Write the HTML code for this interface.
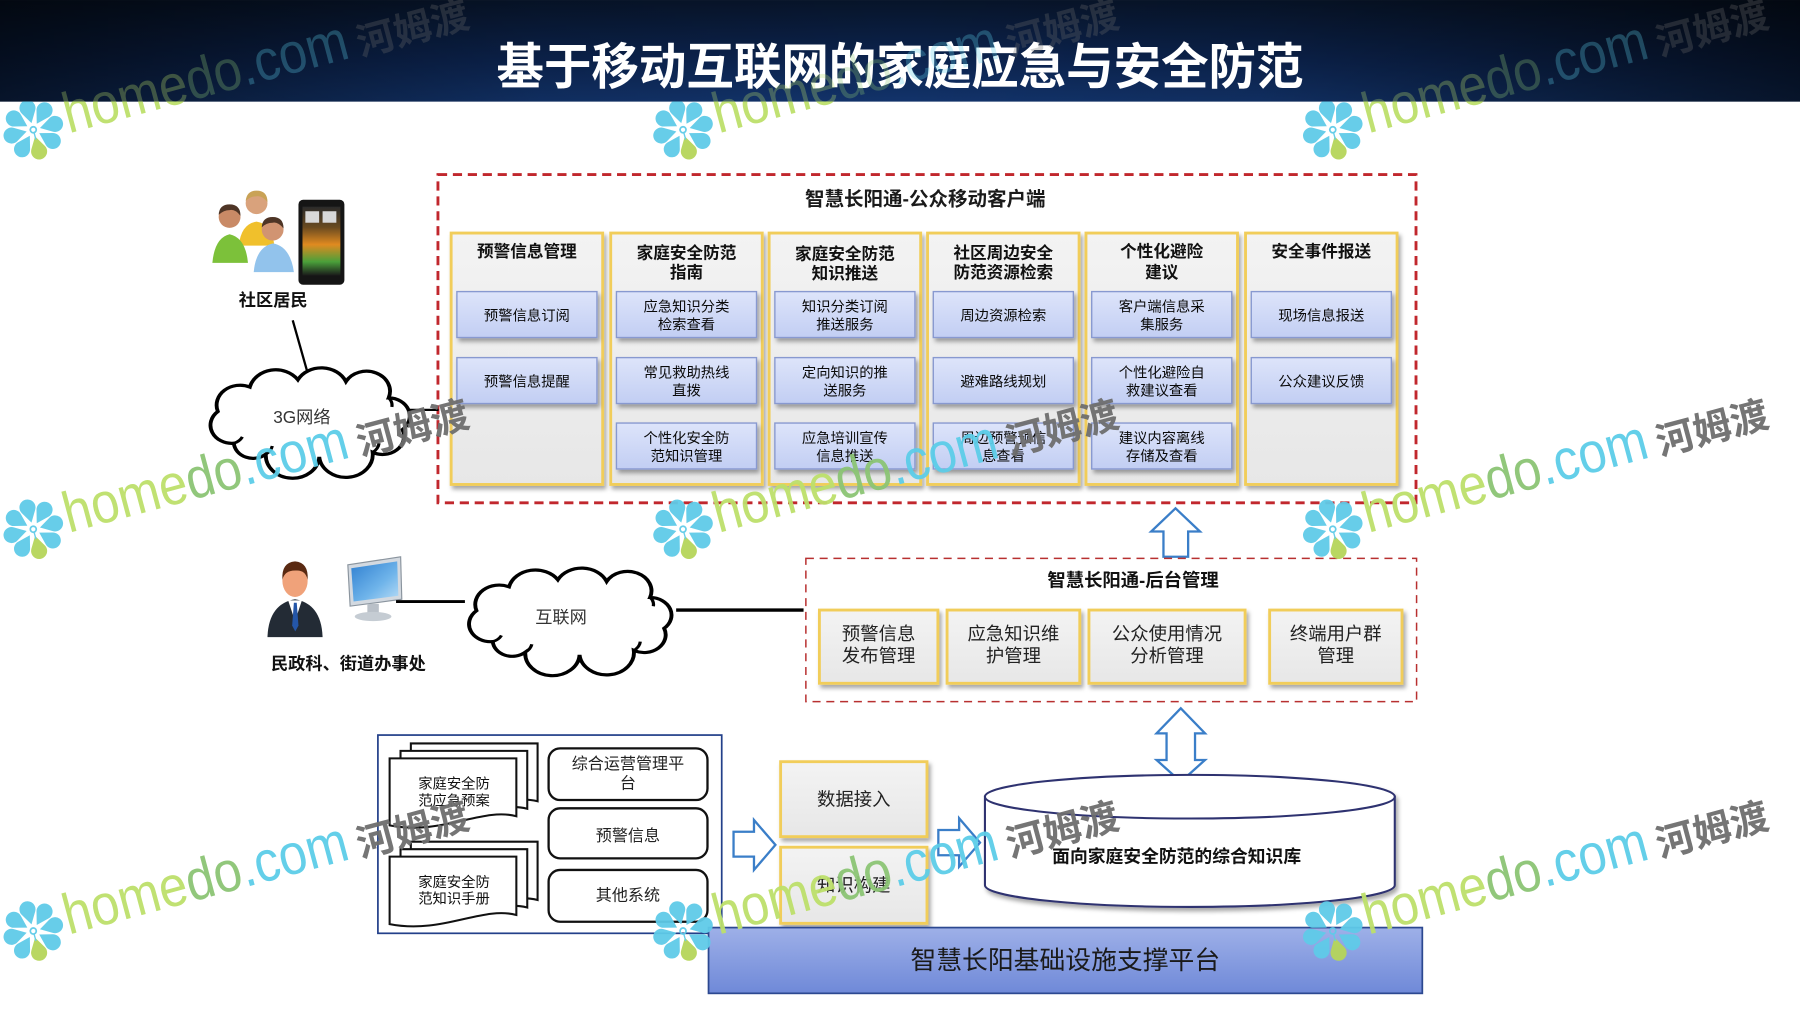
<!DOCTYPE html>
<html><head><meta charset="utf-8">
<style>
html,body{margin:0;padding:0;width:1800px;height:1013px;overflow:hidden;background:#fff}
svg{display:block}
</style></head>
<body>
<svg width="1800" height="1013" viewBox="0 0 1568 882.4" xmlns="http://www.w3.org/2000/svg" style="font-family:'Liberation Sans','Noto Sans CJK SC',sans-serif">
<defs>
  <linearGradient id="hv" x1="0" y1="0" x2="0" y2="1">
    <stop offset="0" stop-color="#071429"/>
    <stop offset="0.6" stop-color="#0c2450"/>
    <stop offset="1" stop-color="#12336a"/>
  </linearGradient>
  <linearGradient id="hh" x1="0" y1="0" x2="1" y2="0">
    <stop offset="0" stop-color="#000" stop-opacity="0.6"/>
    <stop offset="0.3" stop-color="#000" stop-opacity="0.1"/>
    <stop offset="0.5" stop-color="#000" stop-opacity="0"/>
    <stop offset="0.7" stop-color="#000" stop-opacity="0.1"/>
    <stop offset="1" stop-color="#000" stop-opacity="0.6"/>
  </linearGradient>
  <linearGradient id="colg" x1="0" y1="0" x2="0" y2="1">
    <stop offset="0" stop-color="#f3f3f3"/>
    <stop offset="1" stop-color="#e7e7e7"/>
  </linearGradient>
  <linearGradient id="ibg" x1="0" y1="0" x2="0" y2="1">
    <stop offset="0" stop-color="#dde4fa"/>
    <stop offset="1" stop-color="#c2cef3"/>
  </linearGradient>
  <linearGradient id="barg" x1="0" y1="0" x2="0" y2="1">
    <stop offset="0" stop-color="#9eb0e8"/>
    <stop offset="1" stop-color="#6f89d8"/>
  </linearGradient>
  <linearGradient id="scr" x1="0" y1="0" x2="0" y2="1">
    <stop offset="0" stop-color="#2a2a2a"/>
    <stop offset="0.3" stop-color="#6a4a20"/>
    <stop offset="0.55" stop-color="#e08a20"/>
    <stop offset="0.8" stop-color="#4aa03a"/>
    <stop offset="1" stop-color="#1a1a1a"/>
  </linearGradient>
  <linearGradient id="mon" x1="0" y1="0" x2="1" y2="1">
    <stop offset="0" stop-color="#2f7fd0"/>
    <stop offset="0.6" stop-color="#6fb4ea"/>
    <stop offset="1" stop-color="#b7dcf6"/>
  </linearGradient>
  <filter id="sh" x="-10%" y="-10%" width="130%" height="140%">
    <feDropShadow dx="2" dy="3" stdDeviation="1.8" flood-color="#000" flood-opacity="0.35"/>
  </filter>
  <clipPath id="hdr"><rect x="0" y="0" width="1568" height="88.5"/></clipPath>
  <clipPath id="bdy"><rect x="0" y="88.5" width="1568" height="800"/></clipPath>
</defs>

<!-- Header -->
<rect x="0" y="0" width="1568" height="88.5" fill="url(#hv)"/>
<rect x="0" y="0" width="1568" height="88.5" fill="url(#hh)"/>
<text x="784" y="73" font-size="43" font-weight="bold" fill="#fff" text-anchor="middle" textLength="703" lengthAdjust="spacingAndGlyphs">基于移动互联网的家庭应急与安全防范</text>

<!-- Top dashed container -->
<rect x="381.5" y="152" width="852" height="286" fill="none" stroke="#c1272d" stroke-width="2.5" stroke-dasharray="8 5"/>
<text x="806" y="179" font-size="17" font-weight="bold" fill="#1a1a1a" text-anchor="middle">智慧长阳通-公众移动客户端</text>

<!-- Columns -->
<g filter="url(#sh)" fill="url(#colg)" stroke="#f1cd5a" stroke-width="2.5">
  <rect x="393" y="203" width="132" height="219"/>
  <rect x="532" y="203" width="132" height="219"/>
  <rect x="670" y="203" width="132" height="219"/>
  <rect x="808" y="203" width="132" height="219"/>
  <rect x="946" y="203" width="132" height="219"/>
  <rect x="1085" y="203" width="132" height="219"/>
</g>
<g font-size="14.5" font-weight="bold" fill="#111" text-anchor="middle">
  <text x="459" y="224">预警信息管理</text>
  <text x="598" y="225">家庭安全防范</text><text x="598" y="242">指南</text>
  <text x="736" y="226">家庭安全防范</text><text x="736" y="243">知识推送</text>
  <text x="874" y="225">社区周边安全</text><text x="874" y="242">防范资源检索</text>
  <text x="1012" y="224">个性化避险</text><text x="1012" y="242">建议</text>
  <text x="1151" y="224">安全事件报送</text>
</g>
<!-- Inner boxes -->
<g filter="url(#sh)" fill="url(#ibg)" stroke="#8899d0" stroke-width="1.2">
  <rect x="398" y="254" width="122" height="40"/>
  <rect x="398" y="311.5" width="122" height="40"/>
  <rect x="537" y="254" width="122" height="40"/>
  <rect x="537" y="311.5" width="122" height="40"/>
  <rect x="537" y="368.5" width="122" height="40"/>
  <rect x="675" y="254" width="122" height="40"/>
  <rect x="675" y="311.5" width="122" height="40"/>
  <rect x="675" y="368.5" width="122" height="40"/>
  <rect x="813" y="254" width="122" height="40"/>
  <rect x="813" y="311.5" width="122" height="40"/>
  <rect x="813" y="368.5" width="122" height="40"/>
  <rect x="951" y="254" width="122" height="40"/>
  <rect x="951" y="311.5" width="122" height="40"/>
  <rect x="951" y="368.5" width="122" height="40"/>
  <rect x="1090" y="254" width="122" height="40"/>
  <rect x="1090" y="311.5" width="122" height="40"/>
</g>
<g font-size="12.5" fill="#0a0a0a" text-anchor="middle">
  <text x="459" y="279">预警信息订阅</text>
  <text x="459" y="336.5">预警信息提醒</text>

  <text x="598" y="271.5">应急知识分类</text><text x="598" y="287">检索查看</text>
  <text x="598" y="329">常见救助热线</text><text x="598" y="344.5">直拨</text>
  <text x="598" y="386">个性化安全防</text><text x="598" y="401.5">范知识管理</text>

  <text x="736" y="271.5">知识分类订阅</text><text x="736" y="287">推送服务</text>
  <text x="736" y="329">定向知识的推</text><text x="736" y="344.5">送服务</text>
  <text x="736" y="386">应急培训宣传</text><text x="736" y="401.5">信息推送</text>

  <text x="874" y="279">周边资源检索</text>
  <text x="874" y="336.5">避难路线规划</text>
  <text x="874" y="386">周边预警预信</text><text x="874" y="401.5">息查看</text>

  <text x="1012" y="271.5">客户端信息采</text><text x="1012" y="287">集服务</text>
  <text x="1012" y="329">个性化避险自</text><text x="1012" y="344.5">救建议查看</text>
  <text x="1012" y="386">建议内容离线</text><text x="1012" y="401.5">存储及查看</text>

  <text x="1151" y="279">现场信息报送</text>
  <text x="1151" y="336.5">公众建议反馈</text>
</g>

<!-- Community residents icon -->
<g>
  <path d="M208,214 Q210,195 223.5,193 Q237,195 239,214 Z" fill="#f0c02c"/>
  <circle cx="223.5" cy="177" r="9.5" fill="#d9a27c"/>
  <path d="M214,175 Q215,166 223.5,166 Q233,166 233,176 Q228,170 223,171 Q218,171 214,175 Z" fill="#c9a256"/>
  <path d="M185,229 Q187,207 200,204 Q214,207 216,229 Z" fill="#7cc13a"/>
  <circle cx="200" cy="189" r="9.5" fill="#c98a66"/>
  <path d="M190.5,187 Q191,178 200,178 Q209.5,178 209.5,188 Q205,182 200,183 Q195,183 190.5,187 Z" fill="#4e3526"/>
  <path d="M221,237 Q223,215 238,212 Q253,215 256,237 Z" fill="#92c3ec"/>
  <circle cx="237.5" cy="200" r="9.5" fill="#d19472"/>
  <path d="M228,198 Q228.5,189 237.5,189 Q247,189 247,199 Q242,193 237.5,194 Q232,194 228,198 Z" fill="#4e3526"/>
  <rect x="260" y="174" width="40" height="74" rx="4" fill="#151515"/>
  <rect x="263.5" y="180" width="33" height="60" fill="url(#scr)"/>
  <rect x="266" y="184" width="12" height="10" fill="#d8d8d8"/>
  <rect x="281" y="184" width="12" height="10" fill="#d8d8d8"/>
</g>
<text x="238" y="266.5" font-size="15" font-weight="bold" fill="#111" text-anchor="middle">社区居民</text>
<line x1="255" y1="279" x2="268" y2="325" stroke="#000" stroke-width="2"/>

<!-- 3G cloud -->
<g transform="translate(175.8,322.9) scale(0.93,0.79)">
  <path d="M30,80 A20,20 0 0 1 15,45 A22,22 0 0 1 45,18 A25,25 0 0 1 90,10 A25,25 0 0 1 135,12 A22,22 0 0 1 175,30 A20,20 0 0 1 188,65 A20,20 0 0 1 160,90 A25,25 0 0 1 110,95 A25,25 0 0 1 60,92 A18,18 0 0 1 30,80 Z" fill="#fff" stroke="#000" stroke-width="3.6"/>
  <path d="M30,80 A14,14 0 0 0 38,73 M60,92 A14,14 0 0 0 66,83 M160,90 A14,14 0 0 0 166,80 M175,30 A12,12 0 0 1 178,40" fill="none" stroke="#000" stroke-width="3"/>
</g>
<text x="263" y="368.5" font-size="15" fill="#333" text-anchor="middle">3G网络</text>
<line x1="357" y1="357" x2="382" y2="357" stroke="#000" stroke-width="2"/>

<!-- Officer + monitor -->
<g>
  <path d="M233,555 Q234,526 257,522 Q280,526 281,555 Z" fill="#232b35"/>
  <path d="M251,523 L257,541 L263,523 Z" fill="#fff"/>
  <path d="M256,525 L258.5,525 L260,545 L257.2,550 L254.5,545 Z" fill="#2456a8"/>
  <ellipse cx="257" cy="506" rx="11" ry="14" fill="#f0a27a"/>
  <path d="M246,505 Q245,490 257,489 Q269,490 268,505 Q266,496 257,497 Q248,497 246,505 Z" fill="#5a2a12"/>
  <polygon points="303,492 349,485 350,522 305,528" fill="#d3d9e0" stroke="#8a949e" stroke-width="1"/>
  <polygon points="306,495 346,489 347,519 308,524" fill="url(#mon)"/>
  <rect x="320" y="526" width="10" height="8" fill="#b9c0c8"/>
  <ellipse cx="325" cy="537" rx="16" ry="4" fill="#c5ccd3"/>
</g>
<text x="303.5" y="583" font-size="15" font-weight="bold" fill="#111" text-anchor="middle">民政科、街道办事处</text>
<line x1="345" y1="524" x2="405" y2="524" stroke="#000" stroke-width="2.5"/>

<!-- Internet cloud -->
<g transform="translate(400.9,497.3) scale(0.945,0.77)">
  <path d="M30,80 A20,20 0 0 1 15,45 A22,22 0 0 1 45,18 A25,25 0 0 1 90,10 A25,25 0 0 1 135,12 A22,22 0 0 1 175,30 A20,20 0 0 1 188,65 A20,20 0 0 1 160,90 A25,25 0 0 1 110,95 A25,25 0 0 1 60,92 A18,18 0 0 1 30,80 Z" fill="#fff" stroke="#000" stroke-width="3.6"/>
  <path d="M30,80 A14,14 0 0 0 38,73 M60,92 A14,14 0 0 0 66,83 M160,90 A14,14 0 0 0 166,80 M175,30 A12,12 0 0 1 178,40" fill="none" stroke="#000" stroke-width="3"/>
</g>
<text x="488.7" y="542.5" font-size="15" fill="#333" text-anchor="middle">互联网</text>
<line x1="589" y1="531.4" x2="700" y2="531.4" stroke="#000" stroke-width="3"/>

<!-- Up arrow -->
<polygon points="1024,442.8 1045.3,463 1035,463 1035,485 1013.5,485 1013.5,463 1002.8,463" fill="#fff" stroke="#3a7ec8" stroke-width="2"/>

<!-- Backend dashed box -->
<rect x="702" y="486.4" width="532" height="124.8" fill="none" stroke="#b83030" stroke-width="1.3" stroke-dasharray="7 5"/>
<text x="987" y="511" font-size="16" font-weight="bold" fill="#111" text-anchor="middle">智慧长阳通-后台管理</text>
<g filter="url(#sh)" fill="url(#colg)" stroke="#f1cd5a" stroke-width="2.5">
  <rect x="713.8" y="531.4" width="103.2" height="63.8"/>
  <rect x="825" y="531.4" width="115.6" height="63.8"/>
  <rect x="948.6" y="531.4" width="136" height="63.8"/>
  <rect x="1106" y="531.4" width="115.3" height="63.8"/>
</g>
<g font-size="16" fill="#222" text-anchor="middle">
  <text x="765.4" y="557.5">预警信息</text><text x="765.4" y="576.5">发布管理</text>
  <text x="882.8" y="557.5">应急知识维</text><text x="882.8" y="576.5">护管理</text>
  <text x="1016.6" y="557.5">公众使用情况</text><text x="1016.6" y="576.5">分析管理</text>
  <text x="1163.6" y="557.5">终端用户群</text><text x="1163.6" y="576.5">管理</text>
</g>

<!-- Double arrow -->
<polygon points="1028.6,617 1049.7,638.8 1041,638.8 1041,662 1049.7,662 1028.6,681 1007.5,662 1016.2,662 1016.2,638.8 1007.5,638.8" fill="#fff" stroke="#3a7ec8" stroke-width="2"/>

<!-- Data source box -->
<rect x="329.2" y="640.3" width="299.5" height="172.7" fill="#fff" stroke="#23408a" stroke-width="1.5"/>
<g fill="#fff" stroke="#111" stroke-width="1.8">
  <path transform="translate(18.5,-13)" d="M339.4,660.6 H449.8 V711 C420,703 385,728 339.4,719 Z"/>
  <path transform="translate(9.5,-6.5)" d="M339.4,660.6 H449.8 V711 C420,703 385,728 339.4,719 Z"/>
  <path d="M339.4,660.6 H449.8 V711 C420,703 385,728 339.4,719 Z"/>
  <path transform="translate(18.5,-13)" d="M339.4,746.2 H449.8 V797 C420,789 385,814 339.4,805 Z"/>
  <path transform="translate(9.5,-6.5)" d="M339.4,746.2 H449.8 V797 C420,789 385,814 339.4,805 Z"/>
  <path d="M339.4,746.2 H449.8 V797 C420,789 385,814 339.4,805 Z"/>
</g>
<g font-size="12.5" fill="#111" text-anchor="middle">
  <text x="395.5" y="687">家庭安全防</text><text x="395.5" y="701.5">范应急预案</text>
  <text x="395.5" y="772.5">家庭安全防</text><text x="395.5" y="787">范知识手册</text>
</g>
<g fill="#fff" stroke="#111" stroke-width="2">
  <rect x="477.9" y="651.9" width="138.4" height="45" rx="10"/>
  <rect x="477.9" y="704.1" width="138.4" height="43.6" rx="10"/>
  <rect x="477.9" y="757.8" width="138.4" height="45.1" rx="10"/>
</g>
<g font-size="14" fill="#222" text-anchor="middle">
  <text x="547" y="670">综合运营管理平</text><text x="547" y="687">台</text>
  <text x="547" y="732.5">预警信息</text>
  <text x="547" y="784.5">其他系统</text>
</g>

<!-- Right arrows -->
<polygon points="639,724.5 656.8,724.5 656.8,714.3 675.5,736 656.8,757.8 656.8,746.2 639,746.2" fill="#fff" stroke="#3a7ec8" stroke-width="2"/>
<polygon points="817.4,723 835.5,723 835.5,712.8 853.7,734 835.5,755 835.5,745 817.4,745" fill="#fff" stroke="#3a7ec8" stroke-width="2"/>

<!-- Data access / knowledge build -->
<g filter="url(#sh)" fill="url(#colg)" stroke="#f1cd5a" stroke-width="2.5">
  <rect x="680" y="663.5" width="127.5" height="65.3"/>
  <rect x="680" y="738" width="127.5" height="66.3"/>
</g>
<g font-size="16" fill="#222" text-anchor="middle">
  <text x="743.7" y="701.5">数据接入</text>
  <text x="743.7" y="776.5">知识构建</text>
</g>

<!-- Cylinder -->
<g filter="url(#sh)">
  <path d="M858,694 V771 A178.5,19 0 0 0 1215,771 V694 Z" fill="#fff" stroke="#2e3170" stroke-width="1.8"/>
  <ellipse cx="1036.5" cy="694" rx="178.5" ry="19" fill="#fff" stroke="#2e3170" stroke-width="1.8"/>
</g>
<text x="1025" y="751.5" font-size="15.5" font-weight="bold" fill="#111" text-anchor="middle">面向家庭安全防范的综合知识库</text>

<!-- Platform bar -->
<rect x="617.2" y="808" width="621.8" height="57.3" fill="url(#barg)" stroke="#2c4890" stroke-width="1.5"/>
<text x="928" y="844" font-size="22.5" fill="#1a1a1a" text-anchor="middle">智慧长阳基础设施支撑平台</text>

<!-- Watermarks: header parts (dim) -->
<g clip-path="url(#hdr)" opacity="0.3">
  <g transform="translate(29,113) rotate(-15)">
    <text x="29" y="11" font-size="50" textLength="255" lengthAdjust="spacingAndGlyphs"><tspan fill="#bde06b">home</tspan><tspan fill="#8cc474">do</tspan><tspan fill="#5ccde8">.com</tspan></text>
    <text x="292" y="12" font-size="33" font-weight="bold" fill="#6e6e6e" textLength="100" lengthAdjust="spacingAndGlyphs">河姆渡</text>
  </g>
  <g transform="translate(595,113) rotate(-15)">
    <text x="29" y="11" font-size="50" textLength="255" lengthAdjust="spacingAndGlyphs"><tspan fill="#bde06b">home</tspan><tspan fill="#8cc474">do</tspan><tspan fill="#5ccde8">.com</tspan></text>
    <text x="292" y="12" font-size="33" font-weight="bold" fill="#6e6e6e" textLength="100" lengthAdjust="spacingAndGlyphs">河姆渡</text>
  </g>
  <g transform="translate(1161,113) rotate(-15)">
    <text x="29" y="11" font-size="50" textLength="255" lengthAdjust="spacingAndGlyphs"><tspan fill="#bde06b">home</tspan><tspan fill="#8cc474">do</tspan><tspan fill="#5ccde8">.com</tspan></text>
    <text x="292" y="12" font-size="33" font-weight="bold" fill="#6e6e6e" textLength="100" lengthAdjust="spacingAndGlyphs">河姆渡</text>
  </g>
</g>

<!-- Watermarks: body -->
<g clip-path="url(#bdy)" opacity="0.95">
  <g transform="translate(29,113) rotate(-15)">
    <g fill="#5fcbe8">
      <path d="M0,-6 L6,-16 A7,7 0 1 0 -6,-16 Z"/>
      <path d="M0,-6 L6,-16 A7,7 0 1 0 -6,-16 Z" transform="rotate(45)"/>
      <path d="M0,-6 L6,-16 A7,7 0 1 0 -6,-16 Z" transform="rotate(90)"/>
      <path d="M0,-6 L6,-16 A7,7 0 1 0 -6,-16 Z" transform="rotate(135)"/>
      <path d="M0,-6 L6,-16 A7,7 0 1 0 -6,-16 Z" transform="rotate(-45)"/>
      <path d="M0,-6 L6,-16 A7,7 0 1 0 -6,-16 Z" transform="rotate(-90)"/>
      <path d="M0,-6 L6,-16 A7,7 0 1 0 -6,-16 Z" transform="rotate(-135)"/>
    </g>
    <path d="M0,-6 L6,-16 A7,7 0 1 0 -6,-16 Z" transform="rotate(180)" fill="#b6d55a"/>
    <circle cx="0" cy="0" r="2.6" fill="none" stroke="#5fcbe8" stroke-width="1.5"/>
    <line x1="0" y1="2.5" x2="0" y2="9" stroke="#5fcbe8" stroke-width="1.2"/>
    <text x="29" y="11" font-size="50" textLength="255" lengthAdjust="spacingAndGlyphs"><tspan fill="#bde06b">home</tspan><tspan fill="#8cc474">do</tspan><tspan fill="#5ccde8">.com</tspan></text>
    <text x="292" y="12" font-size="33" font-weight="bold" fill="#6e6e6e" textLength="100" lengthAdjust="spacingAndGlyphs">河姆渡</text>
  </g>
  <g transform="translate(595,113) rotate(-15)">
    <g fill="#5fcbe8">
      <path d="M0,-6 L6,-16 A7,7 0 1 0 -6,-16 Z"/>
      <path d="M0,-6 L6,-16 A7,7 0 1 0 -6,-16 Z" transform="rotate(45)"/>
      <path d="M0,-6 L6,-16 A7,7 0 1 0 -6,-16 Z" transform="rotate(90)"/>
      <path d="M0,-6 L6,-16 A7,7 0 1 0 -6,-16 Z" transform="rotate(135)"/>
      <path d="M0,-6 L6,-16 A7,7 0 1 0 -6,-16 Z" transform="rotate(-45)"/>
      <path d="M0,-6 L6,-16 A7,7 0 1 0 -6,-16 Z" transform="rotate(-90)"/>
      <path d="M0,-6 L6,-16 A7,7 0 1 0 -6,-16 Z" transform="rotate(-135)"/>
    </g>
    <path d="M0,-6 L6,-16 A7,7 0 1 0 -6,-16 Z" transform="rotate(180)" fill="#b6d55a"/>
    <circle cx="0" cy="0" r="2.6" fill="none" stroke="#5fcbe8" stroke-width="1.5"/>
    <line x1="0" y1="2.5" x2="0" y2="9" stroke="#5fcbe8" stroke-width="1.2"/>
    <text x="29" y="11" font-size="50" textLength="255" lengthAdjust="spacingAndGlyphs"><tspan fill="#bde06b">home</tspan><tspan fill="#8cc474">do</tspan><tspan fill="#5ccde8">.com</tspan></text>
    <text x="292" y="12" font-size="33" font-weight="bold" fill="#6e6e6e" textLength="100" lengthAdjust="spacingAndGlyphs">河姆渡</text>
  </g>
  <g transform="translate(1161,113) rotate(-15)">
    <g fill="#5fcbe8">
      <path d="M0,-6 L6,-16 A7,7 0 1 0 -6,-16 Z"/>
      <path d="M0,-6 L6,-16 A7,7 0 1 0 -6,-16 Z" transform="rotate(45)"/>
      <path d="M0,-6 L6,-16 A7,7 0 1 0 -6,-16 Z" transform="rotate(90)"/>
      <path d="M0,-6 L6,-16 A7,7 0 1 0 -6,-16 Z" transform="rotate(135)"/>
      <path d="M0,-6 L6,-16 A7,7 0 1 0 -6,-16 Z" transform="rotate(-45)"/>
      <path d="M0,-6 L6,-16 A7,7 0 1 0 -6,-16 Z" transform="rotate(-90)"/>
      <path d="M0,-6 L6,-16 A7,7 0 1 0 -6,-16 Z" transform="rotate(-135)"/>
    </g>
    <path d="M0,-6 L6,-16 A7,7 0 1 0 -6,-16 Z" transform="rotate(180)" fill="#b6d55a"/>
    <circle cx="0" cy="0" r="2.6" fill="none" stroke="#5fcbe8" stroke-width="1.5"/>
    <line x1="0" y1="2.5" x2="0" y2="9" stroke="#5fcbe8" stroke-width="1.2"/>
    <text x="29" y="11" font-size="50" textLength="255" lengthAdjust="spacingAndGlyphs"><tspan fill="#bde06b">home</tspan><tspan fill="#8cc474">do</tspan><tspan fill="#5ccde8">.com</tspan></text>
    <text x="292" y="12" font-size="33" font-weight="bold" fill="#6e6e6e" textLength="100" lengthAdjust="spacingAndGlyphs">河姆渡</text>
  </g>

  <g transform="translate(29,461) rotate(-15)">
    <g fill="#5fcbe8">
      <path d="M0,-6 L6,-16 A7,7 0 1 0 -6,-16 Z"/>
      <path d="M0,-6 L6,-16 A7,7 0 1 0 -6,-16 Z" transform="rotate(45)"/>
      <path d="M0,-6 L6,-16 A7,7 0 1 0 -6,-16 Z" transform="rotate(90)"/>
      <path d="M0,-6 L6,-16 A7,7 0 1 0 -6,-16 Z" transform="rotate(135)"/>
      <path d="M0,-6 L6,-16 A7,7 0 1 0 -6,-16 Z" transform="rotate(-45)"/>
      <path d="M0,-6 L6,-16 A7,7 0 1 0 -6,-16 Z" transform="rotate(-90)"/>
      <path d="M0,-6 L6,-16 A7,7 0 1 0 -6,-16 Z" transform="rotate(-135)"/>
    </g>
    <path d="M0,-6 L6,-16 A7,7 0 1 0 -6,-16 Z" transform="rotate(180)" fill="#b6d55a"/>
    <circle cx="0" cy="0" r="2.6" fill="none" stroke="#5fcbe8" stroke-width="1.5"/>
    <line x1="0" y1="2.5" x2="0" y2="9" stroke="#5fcbe8" stroke-width="1.2"/>
    <text x="29" y="11" font-size="50" textLength="255" lengthAdjust="spacingAndGlyphs"><tspan fill="#bde06b">home</tspan><tspan fill="#8cc474">do</tspan><tspan fill="#5ccde8">.com</tspan></text>
    <text x="292" y="12" font-size="33" font-weight="bold" fill="#6e6e6e" textLength="100" lengthAdjust="spacingAndGlyphs">河姆渡</text>
  </g>
  <g transform="translate(595,461) rotate(-15)">
    <g fill="#5fcbe8">
      <path d="M0,-6 L6,-16 A7,7 0 1 0 -6,-16 Z"/>
      <path d="M0,-6 L6,-16 A7,7 0 1 0 -6,-16 Z" transform="rotate(45)"/>
      <path d="M0,-6 L6,-16 A7,7 0 1 0 -6,-16 Z" transform="rotate(90)"/>
      <path d="M0,-6 L6,-16 A7,7 0 1 0 -6,-16 Z" transform="rotate(135)"/>
      <path d="M0,-6 L6,-16 A7,7 0 1 0 -6,-16 Z" transform="rotate(-45)"/>
      <path d="M0,-6 L6,-16 A7,7 0 1 0 -6,-16 Z" transform="rotate(-90)"/>
      <path d="M0,-6 L6,-16 A7,7 0 1 0 -6,-16 Z" transform="rotate(-135)"/>
    </g>
    <path d="M0,-6 L6,-16 A7,7 0 1 0 -6,-16 Z" transform="rotate(180)" fill="#b6d55a"/>
    <circle cx="0" cy="0" r="2.6" fill="none" stroke="#5fcbe8" stroke-width="1.5"/>
    <line x1="0" y1="2.5" x2="0" y2="9" stroke="#5fcbe8" stroke-width="1.2"/>
    <text x="29" y="11" font-size="50" textLength="255" lengthAdjust="spacingAndGlyphs"><tspan fill="#bde06b">home</tspan><tspan fill="#8cc474">do</tspan><tspan fill="#5ccde8">.com</tspan></text>
    <text x="292" y="12" font-size="33" font-weight="bold" fill="#6e6e6e" textLength="100" lengthAdjust="spacingAndGlyphs">河姆渡</text>
  </g>
  <g transform="translate(1161,461) rotate(-15)">
    <g fill="#5fcbe8">
      <path d="M0,-6 L6,-16 A7,7 0 1 0 -6,-16 Z"/>
      <path d="M0,-6 L6,-16 A7,7 0 1 0 -6,-16 Z" transform="rotate(45)"/>
      <path d="M0,-6 L6,-16 A7,7 0 1 0 -6,-16 Z" transform="rotate(90)"/>
      <path d="M0,-6 L6,-16 A7,7 0 1 0 -6,-16 Z" transform="rotate(135)"/>
      <path d="M0,-6 L6,-16 A7,7 0 1 0 -6,-16 Z" transform="rotate(-45)"/>
      <path d="M0,-6 L6,-16 A7,7 0 1 0 -6,-16 Z" transform="rotate(-90)"/>
      <path d="M0,-6 L6,-16 A7,7 0 1 0 -6,-16 Z" transform="rotate(-135)"/>
    </g>
    <path d="M0,-6 L6,-16 A7,7 0 1 0 -6,-16 Z" transform="rotate(180)" fill="#b6d55a"/>
    <circle cx="0" cy="0" r="2.6" fill="none" stroke="#5fcbe8" stroke-width="1.5"/>
    <line x1="0" y1="2.5" x2="0" y2="9" stroke="#5fcbe8" stroke-width="1.2"/>
    <text x="29" y="11" font-size="50" textLength="255" lengthAdjust="spacingAndGlyphs"><tspan fill="#bde06b">home</tspan><tspan fill="#8cc474">do</tspan><tspan fill="#5ccde8">.com</tspan></text>
    <text x="292" y="12" font-size="33" font-weight="bold" fill="#6e6e6e" textLength="100" lengthAdjust="spacingAndGlyphs">河姆渡</text>
  </g>

  <g transform="translate(29,811) rotate(-15)">
    <g fill="#5fcbe8">
      <path d="M0,-6 L6,-16 A7,7 0 1 0 -6,-16 Z"/>
      <path d="M0,-6 L6,-16 A7,7 0 1 0 -6,-16 Z" transform="rotate(45)"/>
      <path d="M0,-6 L6,-16 A7,7 0 1 0 -6,-16 Z" transform="rotate(90)"/>
      <path d="M0,-6 L6,-16 A7,7 0 1 0 -6,-16 Z" transform="rotate(135)"/>
      <path d="M0,-6 L6,-16 A7,7 0 1 0 -6,-16 Z" transform="rotate(-45)"/>
      <path d="M0,-6 L6,-16 A7,7 0 1 0 -6,-16 Z" transform="rotate(-90)"/>
      <path d="M0,-6 L6,-16 A7,7 0 1 0 -6,-16 Z" transform="rotate(-135)"/>
    </g>
    <path d="M0,-6 L6,-16 A7,7 0 1 0 -6,-16 Z" transform="rotate(180)" fill="#b6d55a"/>
    <circle cx="0" cy="0" r="2.6" fill="none" stroke="#5fcbe8" stroke-width="1.5"/>
    <line x1="0" y1="2.5" x2="0" y2="9" stroke="#5fcbe8" stroke-width="1.2"/>
    <text x="29" y="11" font-size="50" textLength="255" lengthAdjust="spacingAndGlyphs"><tspan fill="#bde06b">home</tspan><tspan fill="#8cc474">do</tspan><tspan fill="#5ccde8">.com</tspan></text>
    <text x="292" y="12" font-size="33" font-weight="bold" fill="#6e6e6e" textLength="100" lengthAdjust="spacingAndGlyphs">河姆渡</text>
  </g>
  <g transform="translate(595,811) rotate(-15)">
    <g fill="#5fcbe8">
      <path d="M0,-6 L6,-16 A7,7 0 1 0 -6,-16 Z"/>
      <path d="M0,-6 L6,-16 A7,7 0 1 0 -6,-16 Z" transform="rotate(45)"/>
      <path d="M0,-6 L6,-16 A7,7 0 1 0 -6,-16 Z" transform="rotate(90)"/>
      <path d="M0,-6 L6,-16 A7,7 0 1 0 -6,-16 Z" transform="rotate(135)"/>
      <path d="M0,-6 L6,-16 A7,7 0 1 0 -6,-16 Z" transform="rotate(-45)"/>
      <path d="M0,-6 L6,-16 A7,7 0 1 0 -6,-16 Z" transform="rotate(-90)"/>
      <path d="M0,-6 L6,-16 A7,7 0 1 0 -6,-16 Z" transform="rotate(-135)"/>
    </g>
    <path d="M0,-6 L6,-16 A7,7 0 1 0 -6,-16 Z" transform="rotate(180)" fill="#b6d55a"/>
    <circle cx="0" cy="0" r="2.6" fill="none" stroke="#5fcbe8" stroke-width="1.5"/>
    <line x1="0" y1="2.5" x2="0" y2="9" stroke="#5fcbe8" stroke-width="1.2"/>
    <text x="29" y="11" font-size="50" textLength="255" lengthAdjust="spacingAndGlyphs"><tspan fill="#bde06b">home</tspan><tspan fill="#8cc474">do</tspan><tspan fill="#5ccde8">.com</tspan></text>
    <text x="292" y="12" font-size="33" font-weight="bold" fill="#6e6e6e" textLength="100" lengthAdjust="spacingAndGlyphs">河姆渡</text>
  </g>
  <g transform="translate(1161,811) rotate(-15)">
    <g fill="#5fcbe8">
      <path d="M0,-6 L6,-16 A7,7 0 1 0 -6,-16 Z"/>
      <path d="M0,-6 L6,-16 A7,7 0 1 0 -6,-16 Z" transform="rotate(45)"/>
      <path d="M0,-6 L6,-16 A7,7 0 1 0 -6,-16 Z" transform="rotate(90)"/>
      <path d="M0,-6 L6,-16 A7,7 0 1 0 -6,-16 Z" transform="rotate(135)"/>
      <path d="M0,-6 L6,-16 A7,7 0 1 0 -6,-16 Z" transform="rotate(-45)"/>
      <path d="M0,-6 L6,-16 A7,7 0 1 0 -6,-16 Z" transform="rotate(-90)"/>
      <path d="M0,-6 L6,-16 A7,7 0 1 0 -6,-16 Z" transform="rotate(-135)"/>
    </g>
    <path d="M0,-6 L6,-16 A7,7 0 1 0 -6,-16 Z" transform="rotate(180)" fill="#b6d55a"/>
    <circle cx="0" cy="0" r="2.6" fill="none" stroke="#5fcbe8" stroke-width="1.5"/>
    <line x1="0" y1="2.5" x2="0" y2="9" stroke="#5fcbe8" stroke-width="1.2"/>
    <text x="29" y="11" font-size="50" textLength="255" lengthAdjust="spacingAndGlyphs"><tspan fill="#bde06b">home</tspan><tspan fill="#8cc474">do</tspan><tspan fill="#5ccde8">.com</tspan></text>
    <text x="292" y="12" font-size="33" font-weight="bold" fill="#6e6e6e" textLength="100" lengthAdjust="spacingAndGlyphs">河姆渡</text>
  </g>
</g>
</svg>
</body></html>
